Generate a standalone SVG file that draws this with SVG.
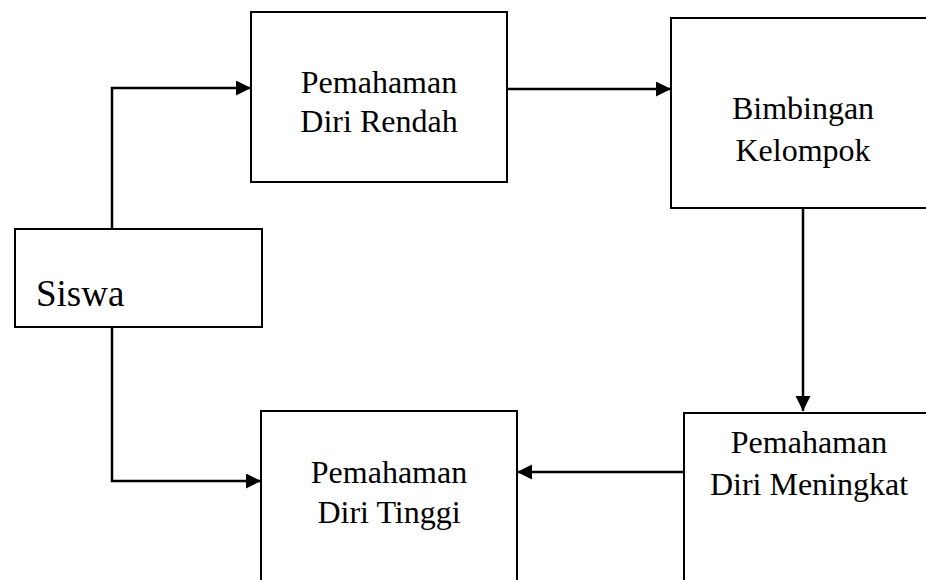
<svg xmlns="http://www.w3.org/2000/svg" width="926" height="580" viewBox="0 0 926 580">
<style>
.box{fill:#fff;stroke:#000;stroke-width:2}
.lbl{font-size:32px;text-anchor:middle}
.conn{fill:none;stroke:#000;stroke-width:2.5}
</style>
<defs>
<marker id="arr" markerUnits="userSpaceOnUse" markerWidth="16" markerHeight="16" refX="15" refY="7.5" orient="auto">
<path d="M0,0 L15,7.5 L0,15 Z" fill="#000"/>
</marker>
</defs>
<rect width="926" height="580" fill="#fff"/>
<g id="connectors">
<polyline class="conn" points="112,229 112,88 251,88" marker-end="url(#arr)"/>
<line class="conn" x1="502" y1="89" x2="671" y2="89" marker-end="url(#arr)"/>
<line class="conn" x1="803" y1="208" x2="803" y2="411" marker-end="url(#arr)"/>
<line class="conn" x1="684" y1="472" x2="517" y2="472" marker-end="url(#arr)"/>
<polyline class="conn" points="112,327 112,481 261,481" marker-end="url(#arr)"/>
</g>
<g font-family="Liberation Serif, serif" fill="#000">
<g id="siswa">
<rect class="box" x="15" y="229" width="247" height="98"/>
<text x="36" y="306" font-size="37">Siswa</text>
</g>
<g id="rendah">
<rect class="box" x="251" y="12" width="256" height="170"/>
<text class="lbl" x="379" y="93">Pemahaman</text>
<text class="lbl" x="379" y="132">Diri Rendah</text>
</g>
<g id="bimbingan">
<rect class="box" x="671" y="18" width="270" height="190"/>
<text class="lbl" x="803" y="119">Bimbingan</text>
<text class="lbl" x="803" y="161">Kelompok</text>
</g>
<g id="meningkat">
<rect class="box" x="684" y="413" width="260" height="200"/>
<text class="lbl" x="809" y="453">Pemahaman</text>
<text class="lbl" x="809" y="495">Diri Meningkat</text>
</g>
<g id="tinggi">
<rect class="box" x="261" y="411" width="256" height="200"/>
<text class="lbl" x="389" y="483">Pemahaman</text>
<text class="lbl" x="389" y="523">Diri Tinggi</text>
</g>
</g>
</svg>
